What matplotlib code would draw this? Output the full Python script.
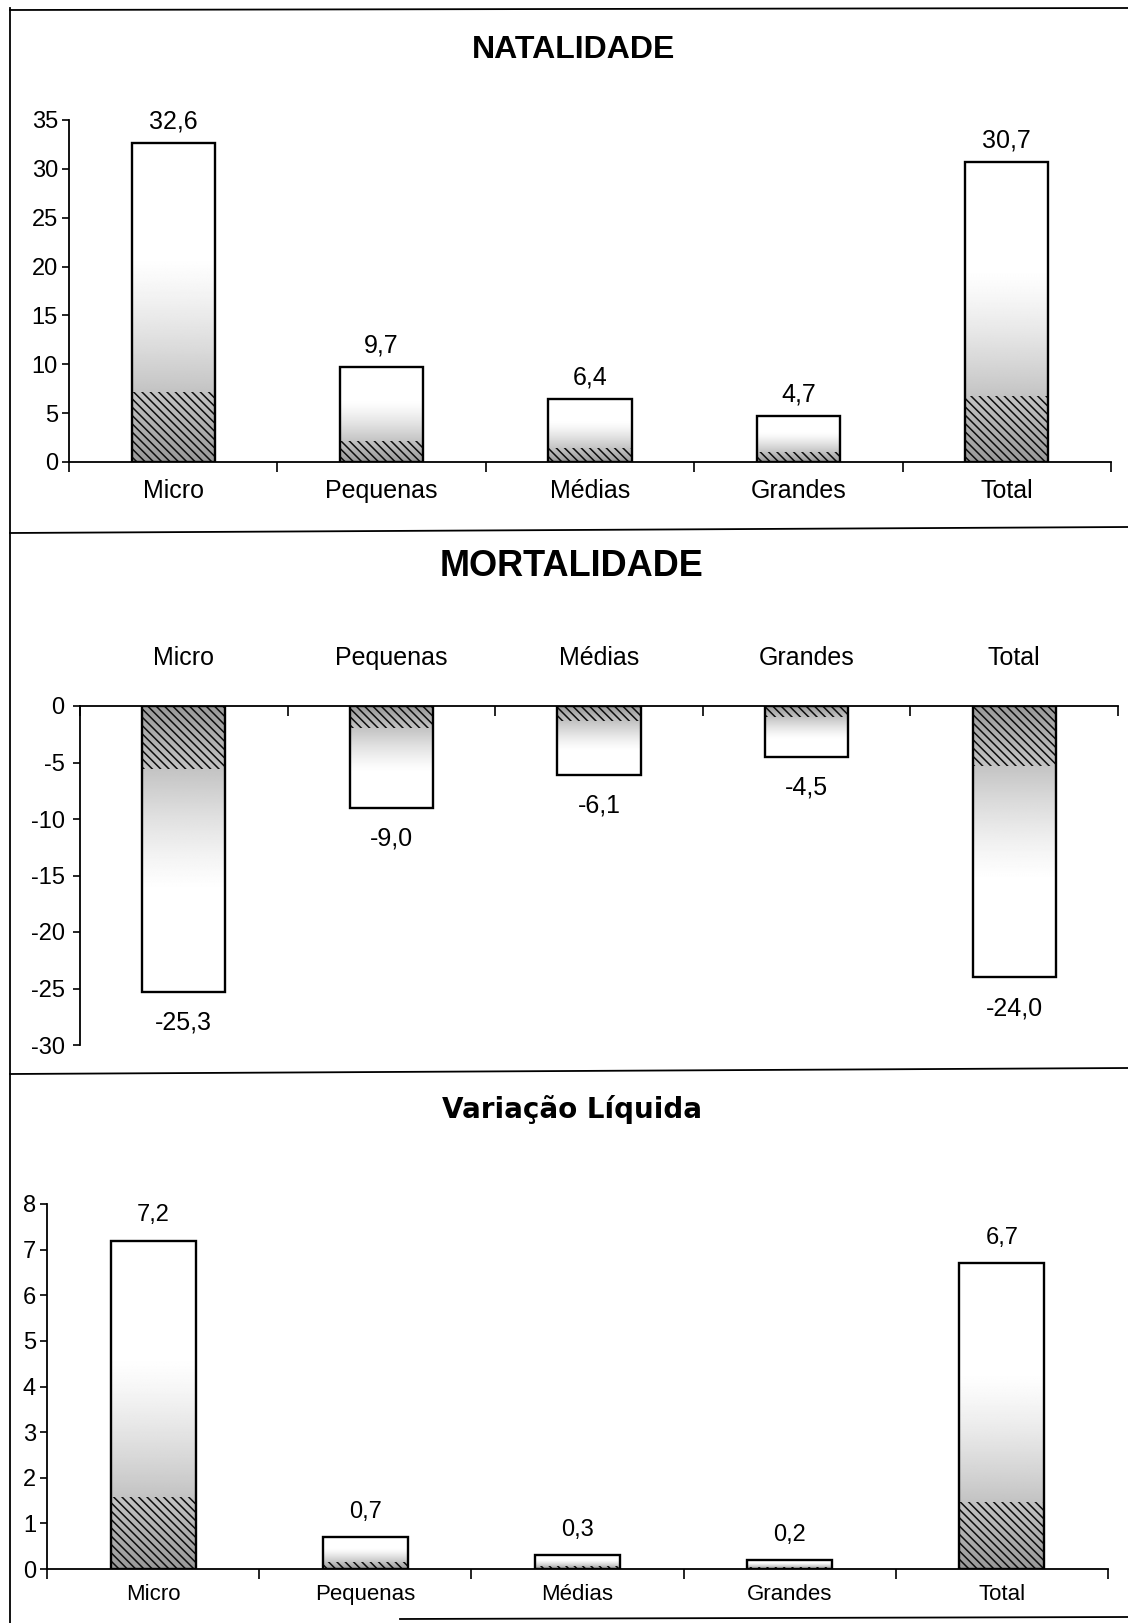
import numpy as np
import matplotlib
matplotlib.use("Agg")
import matplotlib.pyplot as plt
from matplotlib.lines import Line2D
from matplotlib.ticker import FuncFormatter, FixedLocator

# ---- data -------------------------------------------------------------
categorias = ["Micro", "Pequenas", "Médias", "Grandes", "Total"]
natalidade = [32.6, 9.7, 6.4, 4.7, 30.7]
mortalidade = [-25.3, -9.0, -6.1, -4.5, -24.0]
variacao = [7.2, 0.7, 0.3, 0.2, 6.7]

titulos = ["NATALIDADE", "MORTALIDADE", "Variação Líquida"]

# ---- figure -----------------------------------------------------------
W, H = 1128, 1623
plt.rcParams["font.family"] = ["Liberation Sans", "DejaVu Sans"]
plt.rcParams["hatch.linewidth"] = 1.1
fig = plt.figure(figsize=(W / 100, H / 100), dpi=100)
fig.patch.set_facecolor("white")


def rect(x0, x1, ytop, ybot):
    return [x0 / W, 1 - ybot / H, (x1 - x0) / W, (ybot - ytop) / H]


def fig_line(xs, ys, lw=1.3):
    fig.add_artist(Line2D([x / W for x in xs], [1 - y / H for y in ys],
                          transform=fig.transFigure, color="black", lw=lw))


# outer frame and panel separators
fig_line([10, W], [10, 8])
fig_line([10, 10], [8, H])
fig_line([10, W], [533, 527])
fig_line([10, W], [1074, 1068])
fig_line([400, W], [1619, 1617])

# vertical gradient used as bar fill (dark at the base, fading out)
t = np.linspace(0, 1, 300)
shade = 1 - 0.4 * np.clip(1 - t / 0.65, 0, 1) ** 1.3
grad = shade[:, None]


def draw_bars(ax, values, width=0.4):
    x = np.arange(len(values))
    outline = ax.bar(x, values, width=width, facecolor="white",
                     edgecolor="none", zorder=1)
    for bar, v in zip(outline.patches, values):
        x0 = bar.get_x()
        im = ax.imshow(grad, extent=(x0, x0 + width, 0, v), origin="lower",
                       cmap="gray", vmin=0, vmax=1, aspect="auto",
                       interpolation="bilinear", zorder=1.5)
        im.set_clip_path(bar)
    # diagonal hatching near the base of every bar
    ax.bar(x, [0.22 * v for v in values], width=width, facecolor="none",
           edgecolor="0.05", lw=0, hatch="\\\\\\\\", zorder=2)
    ax.bar(x, values, width=width, facecolor="none", edgecolor="black",
           lw=1.7, zorder=3)
    return x


def fmt_val(v):
    return f"{v:.1f}".replace(".", ",")


def setup_axis(ax, ylim, step, top_axis=False, cat_size=17, ysize=17,
               cat_pad=13, ypad=3):
    n = len(categorias)
    ax.set_xlim(-0.5, n - 0.5)
    ax.set_ylim(*ylim)
    ax.set_facecolor("none")
    for s in ax.spines.values():
        s.set_visible(False)
    ax.spines["left"].set_visible(True)
    ax.spines["left"].set_linewidth(1.3)
    zero = ax.spines["top"] if top_axis else ax.spines["bottom"]
    zero.set_visible(True)
    zero.set_linewidth(1.3)

    ax.yaxis.set_major_locator(FixedLocator(np.arange(ylim[0], ylim[1] + step / 2, step)))
    ax.yaxis.set_major_formatter(FuncFormatter(lambda v, _: f"{v:.0f}"))
    ax.tick_params(axis="y", direction="out", length=5, width=1.2,
                   labelsize=ysize, pad=ypad)

    if top_axis:
        ax.xaxis.tick_top()
    ax.set_xticks(np.arange(-0.5, n, 1.0))
    ax.set_xticklabels([])
    ax.set_xticks(np.arange(n), minor=True)
    ax.set_xticklabels(categorias, minor=True)
    ax.tick_params(axis="x", which="major", direction="in" if top_axis else "out",
                   length=7, width=1.2)
    ax.tick_params(axis="x", which="minor", length=0, labelsize=cat_size,
                   pad=cat_pad)


# ---- Natalidade -------------------------------------------------------
ax1 = fig.add_axes(rect(69, 1111, 120, 462))
x = draw_bars(ax1, natalidade)
setup_axis(ax1, (0, 35), 5, cat_size=18, ysize=17, cat_pad=12)
for xi, v in zip(x, natalidade):
    ax1.annotate(fmt_val(v), (xi, v), xytext=(0, 15), textcoords="offset pixels",
                 ha="center", va="baseline", fontsize=18)

# ---- Mortalidade ------------------------------------------------------
ax2 = fig.add_axes(rect(80, 1118, 706, 1045))
x = draw_bars(ax2, mortalidade)
setup_axis(ax2, (-30, 0), 5, top_axis=True, cat_size=18, ysize=17,
           cat_pad=26, ypad=6)
for xi, v in zip(x, mortalidade):
    ax2.annotate(fmt_val(v), (xi, v), xytext=(0, -38), textcoords="offset pixels",
                 ha="center", va="baseline", fontsize=18)

# ---- Variação Líquida -------------------------------------------------
ax3 = fig.add_axes(rect(47, 1108, 1204, 1569))
x = draw_bars(ax3, variacao)
setup_axis(ax3, (0, 8), 1, cat_size=16, ysize=17, cat_pad=11)
for xi, v in zip(x, variacao):
    ax3.annotate(fmt_val(v), (xi, v), xytext=(0, 19), textcoords="offset pixels",
                 ha="center", va="baseline", fontsize=17)

# ---- titles -----------------------------------------------------------
fig.text(574 / W, 1 - 50 / H, titulos[0], ha="center", va="center",
         fontsize=23, fontweight="bold")
fig.text(572 / W, 1 - 567 / H, titulos[1], ha="center", va="center",
         fontsize=26, fontweight="bold")
fig.text(572 / W, 1 - 1110 / H, titulos[2], ha="center", va="center",
         fontsize=20, fontweight="bold", family=["DejaVu Sans"])

fig.savefig("out.png", dpi=100, facecolor="white")
